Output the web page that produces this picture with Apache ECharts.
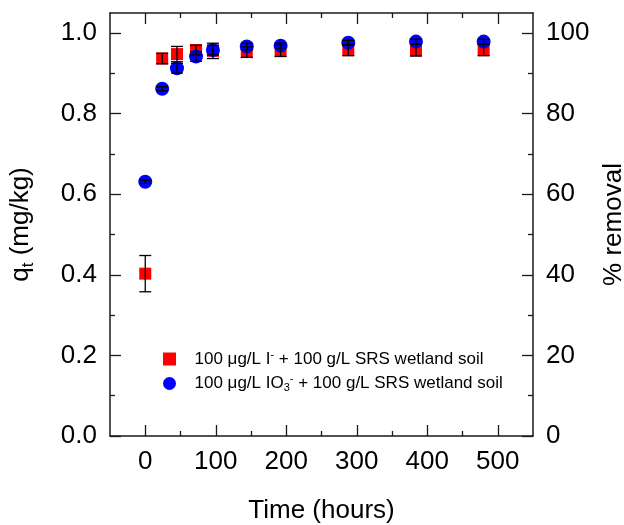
<!DOCTYPE html>
<html>
<head>
<meta charset="utf-8">
<script src="https://cdn.jsdelivr.net/npm/echarts@6/dist/echarts.min.js"></script>
<style>html,body{margin:0;padding:0;background:#fff;}#c{width:624px;height:525px;}</style>
</head>
<body>
<div id="c"></div>
<script>
// ---- data ----
var timeHours = [0, 24, 45, 72, 96, 144, 192, 288, 384, 480];
var iodideQt = [0.403, 0.937, 0.948, 0.958, 0.956, 0.953, 0.956, 0.958, 0.958, 0.958];
var iodideErr = [0.045, 0.013, 0.019, 0.012, 0.019, 0.013, 0.014, 0.014, 0.015, 0.014];
var iodateQt = [0.631, 0.862, 0.913, 0.942, 0.958, 0.967, 0.969, 0.976, 0.979, 0.979];
var iodateErr = [0.004, 0.005, 0.012, 0.012, 0.012, 0.008, 0.006, 0.006, 0.006, 0.006];
var xMajorTicks = [0, 100, 200, 300, 400, 500];
var xMinorTicks = [50, 150, 250, 350, 450];
var yLeftMajor = [0, 0.2, 0.4, 0.6, 0.8, 1.0];
var yLeftMinor = [0.1, 0.3, 0.5, 0.7, 0.9];
var yRightMajor = [0, 20, 40, 60, 80, 100];
var yRightMinor = [10, 30, 50, 70, 90];

var FONT = '"Liberation Sans", Arial, sans-serif';
var AX = '#1a1a1a';
var FS = 26;

function pts(xs, ys) { return xs.map(function (x, i) { return [x, ys[i]]; }); }
function errData(xs, ys, es) { return xs.map(function (x, i) { return [x, ys[i] - es[i], ys[i] + es[i]]; }); }

function errRender(params, api) {
  var x = api.value(0);
  var lo = api.coord([x, api.value(1)]);
  var hi = api.coord([x, api.value(2)]);
  var hw = 6;
  var st = { stroke: '#000', lineWidth: 1.3 };
  return {
    type: 'group',
    children: [
      { type: 'line', shape: { x1: lo[0], y1: lo[1], x2: hi[0], y2: hi[1] }, style: st },
      { type: 'line', shape: { x1: lo[0] - hw, y1: lo[1], x2: lo[0] + hw, y2: lo[1] }, style: st },
      { type: 'line', shape: { x1: hi[0] - hw, y1: hi[1], x2: hi[0] + hw, y2: hi[1] }, style: st }
    ]
  };
}

function tickAxis(base, extra) {
  var o = {};
  for (var k in base) o[k] = base[k];
  for (var k2 in extra) o[k2] = extra[k2];
  return o;
}

var xBase = { type: 'value', min: -50, max: 550, gridIndex: 0, splitLine: { show: false } };
var yLBase = { type: 'value', min: 0, max: 1.05, splitLine: { show: false } };
var yRBase = { type: 'value', min: 0, max: 105, splitLine: { show: false } };
var lineOn = { show: true, onZero: false, lineStyle: { color: AX, width: 1.5 } };
var lineOff = { show: false, onZero: false };
function ticks(vals, len) {
  return { show: true, inside: true, length: len, customValues: vals, lineStyle: { color: AX, width: 1.3 } };
}
var noLabel = { show: false };

var option = {
  animation: false,
  backgroundColor: '#fff',
  grid: { left: 110, right: 91, top: 13, bottom: 89, containLabel: false, outerBoundsMode: 'none' },
  xAxis: [
    tickAxis(xBase, {
      position: 'bottom', axisLine: lineOn, axisTick: ticks(xMajorTicks, 11),
      axisLabel: { show: true, customValues: xMajorTicks, margin: 13, color: '#000', fontSize: FS, fontFamily: FONT },
      name: 'Time (hours)', nameLocation: 'middle', nameGap: 62,
      nameTextStyle: { color: '#000', fontSize: FS, fontFamily: FONT }
    }),
    tickAxis(xBase, { position: 'bottom', axisLine: lineOff, axisTick: ticks(xMinorTicks, 5), axisLabel: noLabel }),
    tickAxis(xBase, { position: 'top', axisLine: lineOn, axisTick: ticks(xMajorTicks, 11), axisLabel: noLabel }),
    tickAxis(xBase, { position: 'top', axisLine: lineOff, axisTick: ticks(xMinorTicks, 5), axisLabel: noLabel })
  ],
  yAxis: [
    tickAxis(yLBase, {
      position: 'left', axisLine: lineOn, axisTick: ticks(yLeftMajor, 11),
      axisLabel: { show: true, customValues: yLeftMajor, margin: 13, color: '#000', fontSize: FS, fontFamily: FONT,
        formatter: function (v) { return v.toFixed(1); } },
      name: '{m|q}{s|t}{m| (mg/kg)}', nameLocation: 'middle', nameGap: 73, nameRotate: 90,
      nameTextStyle: { color: '#000', fontFamily: FONT,
        rich: {
          m: { fontSize: FS, fontFamily: FONT, color: '#000', lineHeight: 32, verticalAlign: 'middle' },
          s: { fontSize: 17, fontFamily: FONT, color: '#000', lineHeight: 32, verticalAlign: 'bottom' }
        } }
    }),
    tickAxis(yLBase, { position: 'left', axisLine: lineOff, axisTick: ticks(yLeftMinor, 5), axisLabel: noLabel }),
    tickAxis(yRBase, {
      position: 'right', axisLine: lineOn, axisTick: ticks(yRightMajor, 11),
      axisLabel: { show: true, customValues: yRightMajor, margin: 13, color: '#000', fontSize: FS, fontFamily: FONT },
      name: '% removal', nameLocation: 'middle', nameGap: 68, nameRotate: 90,
      nameTextStyle: { color: '#000', fontSize: FS, fontFamily: FONT }
    }),
    tickAxis(yRBase, { position: 'right', axisLine: lineOff, axisTick: ticks(yRightMinor, 5), axisLabel: noLabel })
  ],
  legend: {
    orient: 'vertical', left: 158, top: 344, itemGap: 6,
    itemWidth: 40, itemHeight: 13, symbolKeepAspect: true,
    textStyle: { color: '#000', fontSize: 17, fontFamily: FONT,
      rich: {
        t: { fontSize: 17, fontFamily: FONT, color: '#000', lineHeight: 20, verticalAlign: 'middle' },
        sup: { fontSize: 11, fontFamily: FONT, color: '#000', lineHeight: 20, verticalAlign: 'top' },
        sub: { fontSize: 11, fontFamily: FONT, color: '#000', lineHeight: 20, verticalAlign: 'bottom' }
      } },
    data: [
      { name: 'iodide', icon: 'path://M0,0L1,0L1,1L0,1Z' },
      { name: 'iodate', icon: 'path://M1,0.5A0.5,0.5,0,1,1,0,0.5A0.5,0.5,0,1,1,1,0.5Z' }
    ],
    formatter: function (n) {
      if (n === 'iodide') return '{t|100 μg/L I}{sup|-}{t| + 100 g/L SRS wetland soil}';
      return '{t|100 μg/L IO}{sub|3}{sup|-}{t| + 100 g/L SRS wetland soil}';
    }
  },
  series: [
    { name: 'iodide', type: 'scatter', xAxisIndex: 0, yAxisIndex: 0, symbol: 'rect', symbolSize: 12,
      itemStyle: { color: '#ff0000', opacity: 1 }, data: pts(timeHours, iodideQt), z: 2 },
    { name: 'iodate', type: 'scatter', xAxisIndex: 0, yAxisIndex: 0, symbol: 'circle', symbolSize: 14,
      itemStyle: { color: '#0000ff', opacity: 1 }, data: pts(timeHours, iodateQt), z: 3 },
    { name: 'iodideErr', type: 'custom', xAxisIndex: 0, yAxisIndex: 0, renderItem: errRender,
      data: errData(timeHours, iodideQt, iodideErr), z: 4, silent: true },
    { name: 'iodateErr', type: 'custom', xAxisIndex: 0, yAxisIndex: 0, renderItem: errRender,
      data: errData(timeHours, iodateQt, iodateErr), z: 5, silent: true }
  ]
};

var chart = echarts.init(document.getElementById('c'), null, { renderer: 'canvas' });
chart.setOption(option);
</script>
</body>
</html>
